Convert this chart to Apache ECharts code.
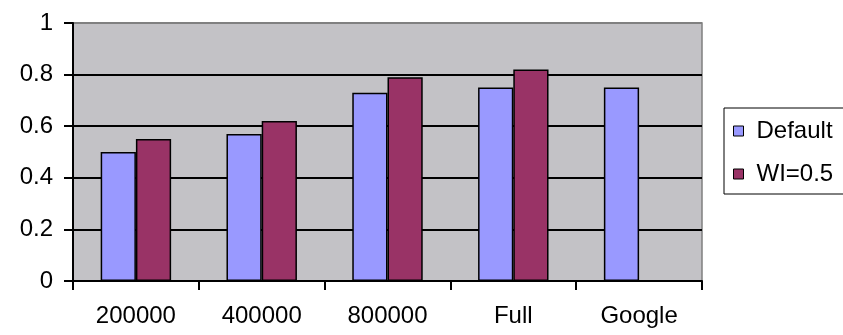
<!DOCTYPE html>
<html>
<head>
<meta charset="utf-8">
<script src="https://cdn.jsdelivr.net/npm/echarts@6/dist/echarts.min.js"></script>
<style>
  html, body { margin: 0; padding: 0; background: #ffffff; }
  #chart { width: 843px; height: 335px; }
</style>
</head>
<body>
<div id="chart"></div>
<script>
// Categories along the x axis
const categories = ['200000', '400000', '800000', 'Full', 'Google'];
// Series values ('-' = no bar for that category)
const defaultValues = [0.50, 0.57, 0.73, 0.75, 0.75];
const wiValues = [0.55, 0.62, 0.79, 0.82, '-'];
// Value-axis tick labels
const yTicks = [0, 0.2, 0.4, 0.6, 0.8, 1];

const FONT = '"Liberation Sans", Arial, sans-serif';

const chart = echarts.init(document.getElementById('chart'), null, { renderer: 'canvas' });

chart.setOption({
  animation: false,
  backgroundColor: '#ffffff',
  grid: {
    left: 73, right: 141, top: 23, bottom: 54,
    show: true,
    backgroundColor: '#c3c2c6',
    borderColor: '#808080',
    borderWidth: 1.5
  },
  legend: {
    orient: 'vertical',
    left: 724,
    top: 108,
    padding: [11, 30, 8, 9],
    itemGap: 19,
    itemWidth: 10,
    itemHeight: 10,
    icon: 'rect',
    borderColor: '#000000',
    borderWidth: 1,
    backgroundColor: '#ffffff',
    textStyle: { fontFamily: FONT, fontSize: 24, color: '#000000', padding: [0, 0, 0, 8] },
    data: [
      { name: 'Default', itemStyle: { borderColor: '#000', borderWidth: 1 } },
      { name: 'WI=0.5', itemStyle: { borderColor: '#000', borderWidth: 1 } }
    ]
  },
  xAxis: {
    type: 'category',
    data: categories,
    axisLine: { lineStyle: { color: '#000000', width: 2 } },
    axisTick: { show: true, inside: false, length: 9, alignWithLabel: false, lineStyle: { color: '#000000', width: 2 } },
    axisLabel: { fontFamily: FONT, fontSize: 24, color: '#000000', margin: 23 },
    splitLine: { show: false }
  },
  yAxis: {
    type: 'value',
    min: yTicks[0],
    max: yTicks[yTicks.length - 1],
    interval: 0.2,
    axisLine: { show: true, lineStyle: { color: '#000000', width: 2 } },
    axisTick: { show: true, inside: false, length: 9, lineStyle: { color: '#000000', width: 2 } },
    axisLabel: {
      fontFamily: FONT, fontSize: 24, color: '#000000', margin: 20,
      formatter: v => String(Math.round(v * 10) / 10)
    },
    splitLine: {
      show: true,
      lineStyle: { color: ['#000000', '#000000', '#000000', '#000000', '#000000', '#808080'], width: 2 }
    }
  },
  series: [
    {
      name: 'Default',
      type: 'bar',
      data: defaultValues,
      barGap: '0%',
      barCategoryGap: '44%',
      itemStyle: { color: '#9999ff', borderColor: '#000000', borderWidth: 1.5 }
    },
    {
      name: 'WI=0.5',
      type: 'bar',
      data: wiValues,
      barGap: '0%',
      barCategoryGap: '44%',
      itemStyle: { color: '#993366', borderColor: '#000000', borderWidth: 1.5 }
    }
  ]
});
</script>
</body>
</html>
